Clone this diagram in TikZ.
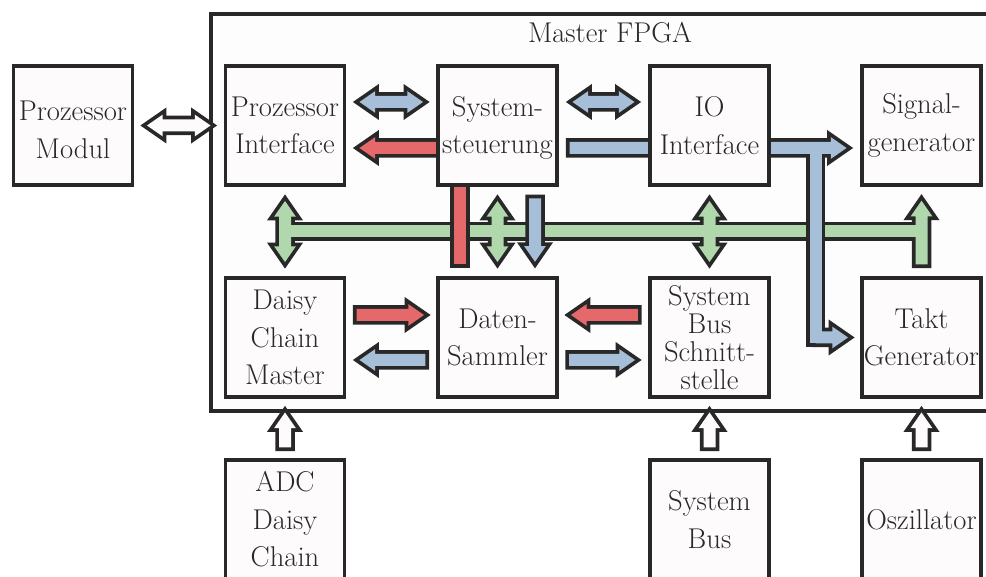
\documentclass[tikz,border=0pt]{standalone}
\usepackage{fontspec}
\usetikzlibrary{calc}

\definecolor{linec}{RGB}{40,40,40}
\definecolor{boxfill}{RGB}{253,251,252}
\definecolor{fpgafill}{RGB}{254,253,254}
\definecolor{busblue}{RGB}{166,190,215}
\definecolor{busred}{RGB}{229,104,106}
\definecolor{busgreen}{RGB}{176,216,172}

\pgfdeclarelayer{back}
\pgfdeclarelayer{links}
\pgfsetlayers{back,links,main}

\newcommand\blockfont{\fontsize{28.6}{37.5}\selectfont}

\tikzset{
  block/.style={draw=linec, line width=3.75pt, fill=boxfill, minimum width=119pt,
    minimum height=119.5pt, inner sep=0pt, align=center, text=linec, font=\blockfont},
  % fat connectors: the path gives the coloured inside, the outline pass
  % strokes it twice as wide so that 3.75pt of black remain outside
  olp/.style={draw=linec, line width=7.5pt, line join=miter},
  % plain bar
  fbar/.style={to path={let \p1=(\tikztostart), \p2=(\tikztotarget),
      \n1={atan2(\y2-\y1,\x2-\x1)} in
      ($(\p1)+(\n1+90:6pt)$) -- ($(\p2)+(\n1+90:6pt)$) --
      ($(\p2)+(\n1-90:6pt)$) -- ($(\p1)+(\n1-90:6pt)$) -- cycle}},
  % bar with a head at the target
  fsingle/.style={to path={let \p1=(\tikztostart), \p2=(\tikztotarget),
      \n1={atan2(\y2-\y1,\x2-\x1)} in
      ($(\p1)+(\n1+90:6pt)$) --
      ($(\p2)+(\n1:-22.25pt)+(\n1+90:6pt)$) --
      ($(\p2)+(\n1:-22.25pt)+(\n1+90:10.85pt)$) --
      ($(\p2)+(\n1:-6.6pt)$) --
      ($(\p2)+(\n1:-22.25pt)+(\n1-90:10.85pt)$) --
      ($(\p2)+(\n1:-22.25pt)+(\n1-90:6pt)$) --
      ($(\p1)+(\n1-90:6pt)$) -- cycle}},
  % bar with heads at both ends
  fdouble/.style={to path={let \p1=(\tikztostart), \p2=(\tikztotarget),
      \n1={atan2(\y2-\y1,\x2-\x1)} in
      ($(\p1)+(\n1:6.6pt)$) --
      ($(\p1)+(\n1:22.25pt)+(\n1+90:10.85pt)$) --
      ($(\p1)+(\n1:22.25pt)+(\n1+90:6pt)$) --
      ($(\p2)+(\n1:-22.25pt)+(\n1+90:6pt)$) --
      ($(\p2)+(\n1:-22.25pt)+(\n1+90:10.85pt)$) --
      ($(\p2)+(\n1:-6.6pt)$) --
      ($(\p2)+(\n1:-22.25pt)+(\n1-90:10.85pt)$) --
      ($(\p2)+(\n1:-22.25pt)+(\n1-90:6pt)$) --
      ($(\p1)+(\n1:22.25pt)+(\n1-90:6pt)$) --
      ($(\p1)+(\n1:22.25pt)+(\n1-90:10.85pt)$) -- cycle}},
}

% one fat connector: outline pass, then fill pass
% #1 colour, #2 shape style, #3 start, #4 end
\newcommand\fatlink[4]{%
  \draw[olp] #3 to[#2] #4;
  \fill[#1] #3 to[#2] #4;
}

\begin{document}
\begin{tikzpicture}[x=1pt, y=-1pt]
\useasboundingbox (0,0) rectangle (986,577);
\clip (0,0) rectangle (986,577);

% outer FPGA frame
\begin{pgfonlayer}{back}
  \fill[white] (0,0) rectangle (986,577);
  \node[draw=linec, line width=3.75pt, fill=fpgafill, minimum width=800pt,
        minimum height=397.2pt, inner sep=0pt] (fpga) at (610.9,212.5) {};
\end{pgfonlayer}
\node[text=linec, font=\blockfont] (fpgalabel) at (610,33) {Master FPGA};

% blocks
\node[block] (pm)  at (73,125.5)    {\rule{0pt}{28pt}Prozessor\\Modul};
\node[block] (pi)  at (285,125.5)   {Prozessor\\Interface};
\node[block] (ss)  at (497.5,125.5) {\rule{0pt}{25pt}System-\\steuerung};
\node[block] (io)  at (709.5,125.5) {IO\\Interface};
\node[block] (sg)  at (921.5,125.5) {Signal-\\generator};
\node[block] (dcm) at (285,337.5)   {Daisy\\Chain\\Master};
\node[block] (ds)  at (497.5,337.5) {Daten-\\Sammler};
\node[block, font=\fontsize{28.6}{28}\selectfont] (sbs) at (709.5,337.5) {System\\Bus\\Schnitt-\\stelle};
\node[block] (tg)  at (921.5,337.5) {Takt\\Generator};
\node[block] (adc) at (285,519.5)   {ADC\\Daisy\\Chain};
\node[block] (sb)  at (709.5,519.5) {System\\Bus};
\node[block] (osc) at (921.5,519.5) {Oszillator};

% connector end points
\coordinate (gbL) at ($(pi.south)!0.5!(dcm.north)$);
\coordinate (gbR) at ($(sg.south)!0.5!(tg.north)$);
\coordinate (bt)  at ($(io.east)!0.5!(sg.west)+(0,22.5)$);
\coordinate (btc) at ($(bt |- tg.west)+(0,6)$);
\coordinate (btk) at (bt |- tg.west);

\begin{pgfonlayer}{links}
  % green bus: all outlines first, then all fills, so the parts merge
  \draw[olp] ($(pi.south)+(0,7.25)$) to[fdouble] ($(dcm.north)+(0,-7.25)$);
  \draw[olp] ($(ss.south)+(0,7.25)$) to[fdouble] ($(ds.north)+(0,-7.25)$);
  \draw[olp] ($(io.south)+(0,7.25)$) to[fdouble] ($(sbs.north)+(0,-7.25)$);
  \draw[olp] ($(tg.north)+(0,-11.5)$) to[fsingle] ($(sg.south)+(0,7)$);
  \draw[olp] (gbL) to[fbar] (gbR);
  \fill[busgreen] ($(pi.south)+(0,7.25)$) to[fdouble] ($(dcm.north)+(0,-7.25)$);
  \fill[busgreen] ($(ss.south)+(0,7.25)$) to[fdouble] ($(ds.north)+(0,-7.25)$);
  \fill[busgreen] ($(io.south)+(0,7.25)$) to[fdouble] ($(sbs.north)+(0,-7.25)$);
  \fill[busgreen] ($(tg.north)+(0,-11.5)$) to[fsingle] ($(sg.south)+(0,7)$);
  \fill[busgreen] (gbL) to[fbar] (gbR);

  % red and blue links between Systemsteuerung and Daten-Sammler
  \fatlink{busred}{fbar}{($(ss.center)+(-37.5,0)$)}{($(ds.north)+(-37.5,-11.5)$)}
  \fatlink{busblue}{fsingle}{($(ss.south)+(37.5,11.25)$)}{($(ds.north)+(37.5,-7.5)$)}

  % blue line through IO Interface to the generators
  \draw[olp] ($(ss.east)+(10.75,22.5)$) to[fsingle] ($(sg.west)+(-7,22.5)$);
  \draw[olp] (bt) to[fbar] (btc);
  \draw[olp] (btk) to[fsingle] ($(tg.west)+(-5.5,0)$);
  \fill[busblue] ($(ss.east)+(10.75,22.5)$) to[fsingle] ($(sg.west)+(-7,22.5)$);
  \fill[busblue] (bt) to[fbar] (btc);
  \fill[busblue] (btk) to[fsingle] ($(tg.west)+(-5.5,0)$);

  % upper row
  \fatlink{busblue}{fdouble}{($(pi.east)+(6.5,-23.5)$)}{($(ss.west)+(-6.5,-23.5)$)}
  \fatlink{busred}{fsingle}{($(ss.center)+(0,22.5)$)}{($(pi.east)+(6.5,22.5)$)}
  \fatlink{busblue}{fdouble}{($(ss.east)+(7,-23.5)$)}{($(io.west)+(-7,-23.5)$)}

  % lower row
  \fatlink{busred}{fsingle}{($(dcm.east)+(10.25,-22.5)$)}{($(ds.west)+(-5.5,-22.5)$)}
  \fatlink{busblue}{fsingle}{($(ds.west)+(-10.75,22.5)$)}{($(dcm.east)+(6.5,22.5)$)}
  \fatlink{busred}{fsingle}{($(sbs.west)+(-10.25,-22.5)$)}{($(ds.east)+(5.5,-22.5)$)}
  \fatlink{busblue}{fsingle}{($(ds.east)+(10.25,22.5)$)}{($(sbs.west)+(-6.5,22.5)$)}

  % external ports
  \fatlink{boxfill}{fdouble}{($(pm.east)+(6,0)$)}{($(pi.west)+(-6.5,0)$)}
  \fatlink{boxfill}{fsingle}{($(adc.north)+(0,-10.5)$)}{($(dcm.south)+(0,6.75)$)}
  \fatlink{boxfill}{fsingle}{($(sb.north)+(0,-10.5)$)}{($(sbs.south)+(0,6.75)$)}
  \fatlink{boxfill}{fsingle}{($(osc.north)+(0,-10.5)$)}{($(tg.south)+(0,6.75)$)}
\end{pgfonlayer}
\end{tikzpicture}
\end{document}
